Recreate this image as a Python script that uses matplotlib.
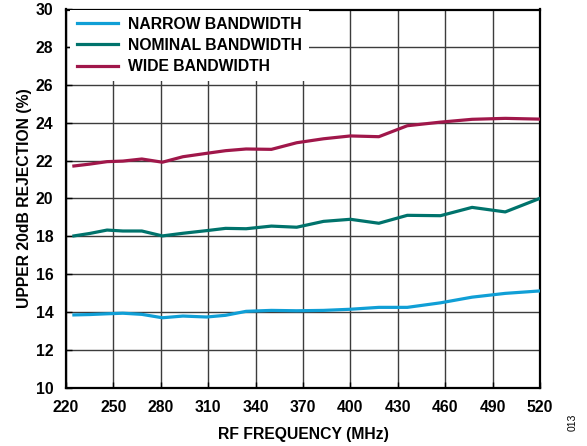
import matplotlib
matplotlib.use("Agg")
import matplotlib.pyplot as plt

plt.rcParams['font.family'] = ['Liberation Sans', 'DejaVu Sans']

freq = [225, 235, 246, 256, 268, 281, 294, 309, 321, 334, 350, 366, 383, 400, 418, 436, 457, 477, 498, 520]
narrow = [13.84, 13.86, 13.90, 13.93, 13.87, 13.69, 13.78, 13.73, 13.82, 14.03, 14.08, 14.06, 14.08, 14.14, 14.24, 14.24, 14.48, 14.78, 14.98, 15.11]
nominal = [18.02, 18.15, 18.33, 18.28, 18.28, 18.02, 18.16, 18.30, 18.42, 18.40, 18.54, 18.48, 18.79, 18.90, 18.69, 19.11, 19.09, 19.53, 19.29, 20.01]
wide = [21.72, 21.82, 21.95, 21.98, 22.09, 21.92, 22.21, 22.39, 22.53, 22.62, 22.60, 22.95, 23.16, 23.31, 23.27, 23.85, 24.04, 24.19, 24.24, 24.20]

series_labels = ['NARROW BANDWIDTH', 'NOMINAL BANDWIDTH', 'WIDE BANDWIDTH']
colors = ['#109fd6', '#00736c', '#a0174a']

xticks = [220, 250, 280, 310, 340, 370, 400, 430, 460, 490, 520]
yticks = [10, 12, 14, 16, 18, 20, 22, 24, 26, 28, 30]

fs = 11.3

fig = plt.figure(figsize=(5.87, 4.46), dpi=100)
ax = fig.add_axes([66/587, 1-387.5/446, 474/587, 378/446])

for y, lab, c in zip([narrow, nominal, wide], series_labels, colors):
    ax.plot(freq, y, color=c, lw=2.3, label=lab, zorder=3, solid_joinstyle='round')

ax.set_xlim(220, 520)
ax.set_ylim(10, 30)
ax.set_xticks(xticks)
ax.set_yticks(yticks)
ax.grid(True, color='#3c3c3c', lw=1.0, zorder=1)
ax.set_axisbelow(True)
for s in ax.spines.values():
    s.set_linewidth(1.6)
    s.set_color('black')
ax.tick_params(direction='in', length=4, width=1, pad=9, labelsize=fs)
for t in ax.get_xticklabels() + ax.get_yticklabels():
    t.set_fontweight('bold')

ax.set_xlabel('RF FREQUENCY (MHz)', fontsize=fs, fontweight='bold', labelpad=9)
ax.set_ylabel('UPPER 20dB REJECTION (%)', fontsize=fs, fontweight='bold', labelpad=3)

leg = ax.legend(loc='upper left', bbox_to_anchor=(0.008, 1.0), frameon=True,
                facecolor='white', edgecolor='none', framealpha=1.0, fancybox=False,
                handlelength=2.6, handletextpad=0.65, labelspacing=0.4, borderpad=0.45,
                borderaxespad=0.0,
                prop={'size': fs, 'weight': 'bold'})
leg.set_zorder(5)

fig.text(573/587, 1-422/446, '013', rotation=90, fontsize=7.5, ha='center', va='center')

fig.savefig('out.png', dpi=100)
